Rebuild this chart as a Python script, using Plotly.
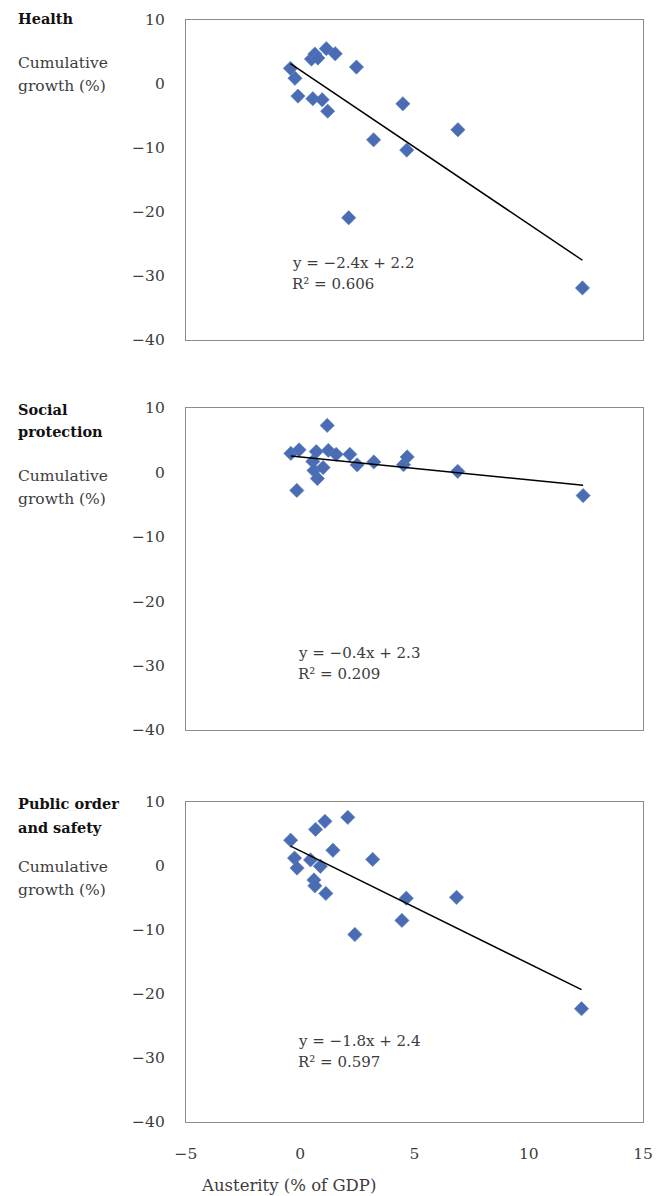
import numpy as np
import plotly.graph_objects as go

# The page body has an 8px margin, so the figure is drawn 8px smaller
# and every pixel position below is given in page pixels, minus OFF.
OFF = 8
W, H = 664 - OFF, 1196 - OFF

# ---- data ----
health_x = [-0.43, -0.23, -0.10, 0.49, 0.55, 0.64, 0.77, 0.96, 1.14, 1.20, 1.53, 2.12, 2.46, 3.21, 4.49, 4.66, 6.90, 12.35]
health_y = [2.45, 0.90, -1.89, 3.90, -2.30, 4.68, 4.06, -2.46, 5.52, -4.25, 4.73, -20.9, 2.65, -8.72, -3.09, -10.33, -7.15, -31.87]

social_x = [-0.41, -0.05, -0.15, 0.55, 0.60, 0.70, 0.75, 1.00, 1.18, 1.23, 1.57, 2.17, 2.49, 3.22, 4.52, 4.68, 6.89, 12.38]
social_y = [2.95, 3.50, -2.80, 1.70, 0.30, 3.23, -0.95, 0.75, 7.30, 3.42, 2.80, 2.80, 1.17, 1.62, 1.20, 2.40, 0.16, -3.60]

public_x = [-0.42, -0.25, -0.14, 0.45, 0.60, 0.64, 0.67, 0.88, 1.08, 1.12, 1.43, 2.08, 2.39, 3.17, 4.45, 4.64, 6.84, 12.31]
public_y = [4.03, 1.24, -0.32, 0.95, -2.18, -3.10, 5.72, -0.04, 6.98, -4.28, 2.46, 7.60, -10.70, 1.03, -8.50, -5.04, -4.90, -22.30]

panel_titles = [["Health"], ["Social", "protection"], ["Public order", "and safety"]]
equations = ["y = \u22122.4x + 2.2", "y = \u22120.4x + 2.3", "y = \u22121.8x + 2.4"]
r_squared = ["R\u00b2 = 0.606", "R\u00b2 = 0.209", "R\u00b2 = 0.597"]
y_title_lines = ["Cumulative", "growth (%)"]
x_title = "Austerity (% of GDP)"
x_ticks = [-5, 0, 5, 10, 15]
y_ticks = [-40, -30, -20, -10, 0, 10]

series = [(health_x, health_y), (social_x, social_y), (public_x, public_y)]

# ---- layout geometry (page pixels) ----
box_left, box_right = 186, 643
panel_px = [(20, 340), (408, 730), (802, 1122)]
title_px = [[18], [409, 432], [804, 827]]
ytitle_px = [[63, 86], [476, 499], [867, 890]]
eq_pos = [(-0.47, -28.0, -31.3), (-0.17, -28.0, -31.3), (-0.17, -27.4, -30.7)]

FONT = "DejaVu Serif"
TXT = "#3c3c3c"
MARK = "#4a6cb2"

def px_x(px):
    return (px - OFF) / W

def px_y(px):
    return 1 - (px - OFF) / H

fig = go.Figure()
annotations = []
for i, (xs, ys) in enumerate(series):
    n = i + 1
    xa = "x" if n == 1 else f"x{n}"
    ya = "y" if n == 1 else f"y{n}"
    fig.add_trace(go.Scatter(
        x=xs, y=ys, mode="markers", xaxis=xa, yaxis=ya,
        marker=dict(symbol="diamond", size=11, color=MARK,
                    line=dict(width=0.6, color="#5a7cc0")),
        showlegend=False, hoverinfo="x+y"))
    xarr, yarr = np.array(xs), np.array(ys)
    slope, icpt = np.polyfit(xarr, yarr, 1)
    xl = [xarr.min(), xarr.max()]
    fig.add_trace(go.Scatter(
        x=xl, y=[slope * v + icpt for v in xl], mode="lines",
        xaxis=xa, yaxis=ya, line=dict(color="black", width=1.5),
        showlegend=False, hoverinfo="skip"))

    top, bot = panel_px[i]
    dom_y = [px_y(bot), px_y(top)]
    xkey = "xaxis" if n == 1 else f"xaxis{n}"
    ykey = "yaxis" if n == 1 else f"yaxis{n}"
    fig.update_layout(**{
        xkey: dict(domain=[px_x(box_left), px_x(box_right)], range=[-5, 15],
                   tickvals=x_ticks, showticklabels=(n == 3), automargin=False,
                   ticks="outside", ticklen=17, tickcolor="rgba(0,0,0,0)",
                   showgrid=False, zeroline=False, showline=True, mirror=True,
                   linecolor="#8c8c8c", linewidth=1.3, anchor=ya,
                   tickfont=dict(family=FONT, size=15.5, color=TXT)),
        ykey: dict(domain=dom_y, range=[-40, 10], tickvals=y_ticks, automargin=False,
                   ticks="outside", ticklen=17, tickcolor="rgba(0,0,0,0)",
                   showgrid=False, zeroline=False, showline=True, mirror=True,
                   linecolor="#8c8c8c", linewidth=1.3, anchor=xa,
                   tickfont=dict(family=FONT, size=15.5, color=TXT)),
    })

    for line, ypx in zip(panel_titles[i], title_px[i]):
        annotations.append(dict(text=f"<b>{line}</b>", xref="paper", yref="paper",
                                x=px_x(16), y=px_y(ypx), xanchor="left", yanchor="middle",
                                showarrow=False,
                                font=dict(family=FONT, size=14.5, color="#111111")))
    for line, ypx in zip(y_title_lines, ytitle_px[i]):
        annotations.append(dict(text=line, xref="paper", yref="paper",
                                x=px_x(16), y=px_y(ypx), xanchor="left", yanchor="middle",
                                showarrow=False,
                                font=dict(family=FONT, size=15.5, color=TXT)))
    ex, ey1, ey2 = eq_pos[i]
    annotations.append(dict(text=equations[i], xref=xa, yref=ya, x=ex, y=ey1,
                            xanchor="left", yanchor="middle", showarrow=False,
                            font=dict(family=FONT, size=15, color=TXT)))
    annotations.append(dict(text=r_squared[i], xref=xa, yref=ya, x=ex, y=ey2,
                            xanchor="left", yanchor="middle", showarrow=False,
                            font=dict(family=FONT, size=15, color=TXT)))

annotations.append(dict(text=x_title, xref="paper", yref="paper",
                        x=px_x(199), y=px_y(1185), xanchor="left", yanchor="middle",
                        showarrow=False, font=dict(family=FONT, size=16.5, color=TXT)))

fig.update_layout(width=W, height=H, margin=dict(l=0, r=0, t=0, b=0, autoexpand=False),
                  paper_bgcolor="white", plot_bgcolor="white",
                  annotations=annotations, showlegend=False)

fig.write_html("out.html")
